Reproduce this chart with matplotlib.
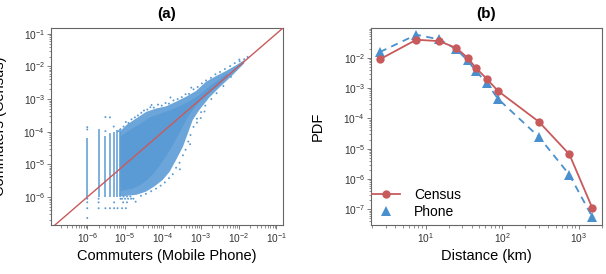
import numpy as np
import matplotlib
matplotlib.use("Agg")
import matplotlib.pyplot as plt
from matplotlib.lines import Line2D
from matplotlib.patches import Polygon
from matplotlib.ticker import LogLocator, NullFormatter

plt.rcParams['font.family'] = ['Liberation Sans', 'DejaVu Sans']
plt.rcParams['mathtext.default'] = 'regular'

RED = '#C85A5C'
BLUE = '#4A90CF'
CLOUD = '#5B9BD5'

# ---------------- Panel (a) data (log10 values) ----------------
# outer envelope of the commuter cloud (sparser edge)
halo_logx = [-5.14, -4.96, -4.70, -4.44, -4.18, -3.91, -3.65, -3.39, -3.12, -2.86, -2.60, -2.33, -2.07, -1.85,
             -1.85, -2.16, -2.51, -2.77, -3.04, -3.21, -3.34, -3.47, -3.65, -3.82, -4.00, -4.22, -4.44, -4.70, -5.14]
halo_logy = [-4.00, -3.79, -3.59, -3.39, -3.29, -3.22, -3.08, -2.93, -2.75, -2.47, -2.30, -2.14, -1.97, -1.81,
             -1.91, -2.27, -2.65, -2.95, -3.34, -3.64, -4.05, -4.46, -4.86, -5.22, -5.47, -5.67, -5.83, -5.93, -5.98]
# dense core envelope
core_logx = [-5.10, -4.88, -4.61, -4.35, -4.09, -3.82, -3.56, -3.30, -3.04, -2.77, -2.51, -2.30,
             -2.30, -2.51, -2.77, -3.04, -3.21, -3.39, -3.56, -3.74, -3.91, -4.09, -4.26, -4.44,
             -4.61, -4.79, -5.10]
core_logy = [-4.15, -3.97, -3.78, -3.58, -3.47, -3.36, -3.24, -3.08, -2.90, -2.63, -2.42, -2.22,
             -2.30, -2.55, -2.80, -3.08, -3.30, -3.62, -4.00, -4.38, -4.72, -5.02, -5.28, -5.48,
             -5.62, -5.72, -5.80]

# discrete low-count columns (phone values) and their census extents
stripe_x = [1.0e-6, 2.0e-6, 3.0e-6, 4.0e-6, 5.1e-6, 6.3e-6, 7.5e-6]
stripe_ymin = [1.0e-6, 1.0e-6, 1.0e-6, 1.0e-6, 1.0e-6, 1.0e-6, 1.0e-6]
stripe_ymax = [6.3e-5, 1.2e-4, 7.5e-5, 9.0e-5, 1.0e-4, 1.1e-4, 1.2e-4]

# individual flows on the edges of the cloud (log10 phone, log10 census)
pts_logx = [
    -6.0, -6.0, -6.0, -6.0, -6.0, -6.0, -5.70, -5.70, -5.70, -5.52, -5.52, -5.40, -5.40,
    -5.29, -5.29, -5.20, -5.12,
    -5.52, -5.30, -5.18, -4.30, -3.80, -3.25,
    -5.12, -5.04, -4.98, -4.91, -4.83, -4.74, -4.66, -4.57, -4.50, -4.41, -4.33, -4.24, -4.13,
    -4.03, -3.93, -3.84, -3.72, -3.61, -3.50, -3.40, -3.31, -3.19, -3.08, -2.97, -2.86, -2.73,
    -2.61, -2.49, -2.36, -2.22, -2.10, -1.97, -1.85, -1.76, -1.98,
    -2.20, -2.40, -2.58, -2.72, -2.88, -2.99, -3.10, -3.19, -3.27, -3.33, -3.40, -3.47, -3.56,
    -3.65, -3.74, -3.84, -3.95, -4.06, -4.18, -4.31, -4.45, -4.58, -4.72,
    -3.10, -3.28, -3.55, -2.90, -3.00,
    -5.08, -5.00, -4.92, -4.84, -4.78, -5.04, -4.95, -4.86, -5.05, -4.95, -5.08, -4.98]
pts_logy = [
    -3.86, -3.93, -6.05, -6.16, -6.34, -6.64, -6.05, -6.16, -6.34, -3.98, -6.34, -3.56, -6.34,
    -6.16, -6.34, -6.34, -6.05,
    -3.55, -3.84, -3.98, -3.18, -2.95, -2.65,
    -3.92, -3.84, -3.70, -3.73, -3.62, -3.56, -3.50, -3.42, -3.35, -3.32, -3.25, -3.26, -3.17,
    -3.20, -3.12, -3.14, -3.04, -3.00, -2.94, -2.85, -2.84, -2.70, -2.63, -2.52, -2.43, -2.35,
    -2.24, -2.17, -2.08, -1.99, -1.90, -1.84, -1.78, -1.71, -1.79,
    -2.32, -2.60, -2.82, -3.00, -3.20, -3.40, -3.60, -3.85, -4.10, -4.30, -4.55, -4.72, -4.95,
    -5.10, -5.30, -5.42, -5.55, -5.65, -5.74, -5.82, -5.90, -5.96, -6.14,
    -3.72, -4.38, -5.15, -3.38, -3.58,
    -6.05, -6.05, -6.05, -6.05, -6.05, -5.98, -5.98, -5.98, -6.16, -6.16, -6.34, -6.34]

# ---------------- Panel (b) data ----------------
distance = [2.5, 7.5, 15, 25, 35, 45, 62.5, 87.5, 300, 750, 1500]
pdf_census = [8.8e-3, 3.9e-2, 3.5e-2, 2.08e-2, 1.0e-2, 4.6e-3, 2.0e-3, 8.0e-4, 7.7e-5, 6.5e-6, 1.08e-7]
pdf_phone = [1.53e-2, 5.7e-2, 4.0e-2, 1.88e-2, 8.2e-3, 3.6e-3, 1.47e-3, 4.4e-4, 2.45e-5, 1.38e-6, 5.5e-8]

fig = plt.figure(figsize=(6.06, 2.74), dpi=100)
W, H = 606, 274
ax1 = fig.add_axes([51 / W, (H - 225) / H, 232 / W, 197 / H])
ax2 = fig.add_axes([371 / W, (H - 225) / H, 231 / W, 197 / H])

def style(ax):
    ax.set_xscale('log')
    ax.set_yscale('log')
    for s in ax.spines.values():
        s.set_color('#666666')
        s.set_linewidth(0.8)
    ax.tick_params(which='major', direction='out', length=3, width=0.6, color='#666666',
                   labelsize=7.3, labelcolor='#333333', pad=1.5)
    ax.tick_params(which='minor', direction='out', length=1.8, width=0.5, color='#666666')
    for axis in (ax.xaxis, ax.yaxis):
        axis.set_major_locator(LogLocator(base=10, numticks=20))
        axis.set_minor_locator(LogLocator(base=10, subs=np.arange(2, 10), numticks=20))
        axis.set_minor_formatter(NullFormatter())

# Panel (a)
style(ax1)
halo_xy = np.column_stack([10 ** np.array(halo_logx), 10 ** np.array(halo_logy)])
ax1.add_patch(Polygon(halo_xy, closed=True, facecolor=CLOUD, edgecolor='none', alpha=0.9, zorder=2))
core_xy = np.column_stack([10 ** np.array(core_logx), 10 ** np.array(core_logy)])
ax1.add_patch(Polygon(core_xy, closed=True, facecolor=CLOUD, edgecolor=CLOUD, lw=0.6, zorder=2))
ax1.vlines(stripe_x, stripe_ymin, stripe_ymax, colors=CLOUD, lw=1.1, zorder=2)
ax1.scatter(10 ** np.array(pts_logx), 10 ** np.array(pts_logy), s=2.0, color=CLOUD,
            edgecolors='none', zorder=2)
lim = [1.1e-7, 0.15]
ax1.plot(lim, lim, color=RED, lw=1.0, zorder=3)
ax1.set_xlim(1.1e-7, 0.15)
ax1.set_ylim(1.4e-7, 0.15)
ax1.set_title('(a)', fontsize=11, fontweight='bold', pad=7)
ax1.set_xlabel('Commuters (Mobile Phone)', fontsize=10.5, labelpad=3)
ax1.set_ylabel('Commuters (Census)', fontsize=10.5)
ax1.yaxis.set_label_coords(-0.19, 0.5)

# Panel (b)
style(ax2)
ax2.plot(distance, pdf_phone, color=BLUE, lw=1.3, ls=(0, (4, 3)), marker='^', ms=6.5,
         markeredgewidth=0, zorder=3)
ax2.plot(distance, pdf_census, color=RED, lw=1.3, marker='o', ms=6, markeredgewidth=0, zorder=4)
ax2.set_xlim(1.92, 2000)
ax2.set_ylim(3.05e-8, 0.095)
ax2.set_title('(b)', fontsize=11, fontweight='bold', pad=7)
ax2.set_xlabel('Distance (km)', fontsize=10.5, labelpad=3)
ax2.set_ylabel('PDF', fontsize=10.5)
ax2.yaxis.set_label_coords(-0.2, 0.5)
handles = [Line2D([], [], color=RED, lw=1.3, marker='o', ms=6, markeredgewidth=0),
           Line2D([], [], color=BLUE, lw=0, marker='^', ms=6.5, markeredgewidth=0)]
ax2.legend(handles, ['Census', 'Phone'], loc='lower left', frameon=False, fontsize=10,
           handlelength=2.0, handletextpad=1.0, labelspacing=0.2,
           bbox_to_anchor=(-0.03, -0.01), borderaxespad=0.2)

fig.savefig('out.png', dpi=100)
